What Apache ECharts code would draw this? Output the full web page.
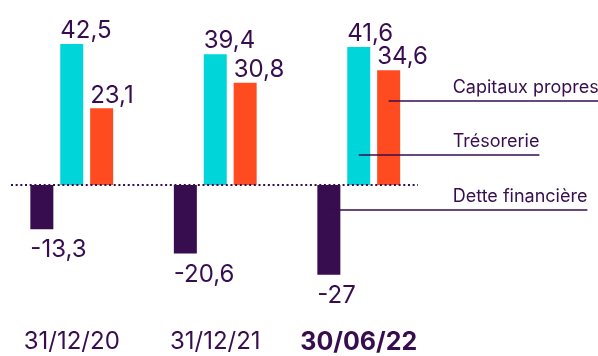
<!DOCTYPE html>
<html><head><meta charset="utf-8">
<script src="https://cdn.jsdelivr.net/npm/echarts@6/dist/echarts.min.js"></script>
<style>html,body{margin:0;padding:0;background:#fff}#c{width:598px;height:356px}</style>
</head><body><div id="c"></div>
<script>
const categories = ['31/12/20', '31/12/21', '30/06/22'];
const detteFinanciere = [-13.3, -20.6, -27];
const tresorerie = [42.5, 39.4, 41.6];
const capitauxPropres = [23.1, 30.8, 34.6];
const seriesNames = ['Dette financière', 'Trésorerie', 'Capitaux propres'];

const PURPLE = '#370d4f', CYAN = '#00d6d9', ORANGE = '#ff4b1f';
const FONT = 'Inter';
const fmt = p => String(p.value).replace('.', ',');

const chart = echarts.init(document.getElementById('c'), null, {renderer: 'canvas'});
const barW = 23;
function mkSeries(name, data, color, neg) {
  return {
    name, type: 'bar', data, barWidth: barW, barGap: '30%',
    itemStyle: {color},
    label: {
      show: true, formatter: fmt, color: PURPLE, fontFamily: FONT, fontSize: 24,
      position: neg ? 'bottom' : 'top', distance: neg ? 9 : 1,
      align: 'left', offset: [-barW / 2, 0], letterSpacing: -0.5
    }
  };
}
chart.setOption({
  animation: false,
  grid: {left: -1.5, width: 432, top: 19, height: 298.8},
  xAxis: {
    type: 'category', data: categories,
    axisLine: {show: false, onZero: false}, axisTick: {show: false},
    axisLabel: {
      interval: 0, margin: 12, color: PURPLE, fontFamily: FONT, fontSize: 24,
      formatter: (v, i) => i === categories.length - 1 ? '{b|' + v + '}' : v,
      rich: {b: {fontWeight: 'bold', fontSize: 25, color: PURPLE, fontFamily: FONT}}
    }
  },
  yAxis: {type: 'value', min: -40, max: 50, show: false, splitLine: {show: false}},
  series: [
    mkSeries(seriesNames[0], detteFinanciere, PURPLE, true),
    mkSeries(seriesNames[1], tresorerie, CYAN, false),
    mkSeries(seriesNames[2], capitauxPropres, ORANGE, false)
  ]
});

const y0 = chart.convertToPixel({yAxisIndex: 0}, 0);
const cx = chart.convertToPixel({xAxisIndex: 0}, categories[categories.length - 1]);
const step = barW + barW * 0.3;
const ctx = document.createElement('canvas').getContext('2d');
ctx.font = '18px ' + FONT;
const textX = 452.7;
const ann = [
  {name: seriesNames[2], x: cx + step, dy: -84},
  {name: seriesNames[1], x: cx, dy: -30},
  {name: seriesNames[0], x: cx - step, dy: 25}
];
const graphics = [{
  type: 'line', shape: {x1: 11, y1: y0, x2: 418, y2: y0},
  style: {stroke: PURPLE, lineWidth: 2, lineDash: [2, 2.67]}, z: 10
}];
ann.forEach(a => {
  const w = ctx.measureText(a.name).width;
  const ly = y0 + a.dy;
  graphics.push({type: 'line', shape: {x1: a.x, y1: ly, x2: textX + w, y2: ly},
    style: {stroke: PURPLE, lineWidth: 1.3}, z: 10});
  graphics.push({type: 'text', x: textX, y: ly - 4.5,
    style: {text: a.name, fill: PURPLE, font: '18px ' + FONT, textVerticalAlign: 'bottom', verticalAlign: 'bottom'}, z: 10});
});
chart.setOption({graphic: graphics});
</script></body></html>
